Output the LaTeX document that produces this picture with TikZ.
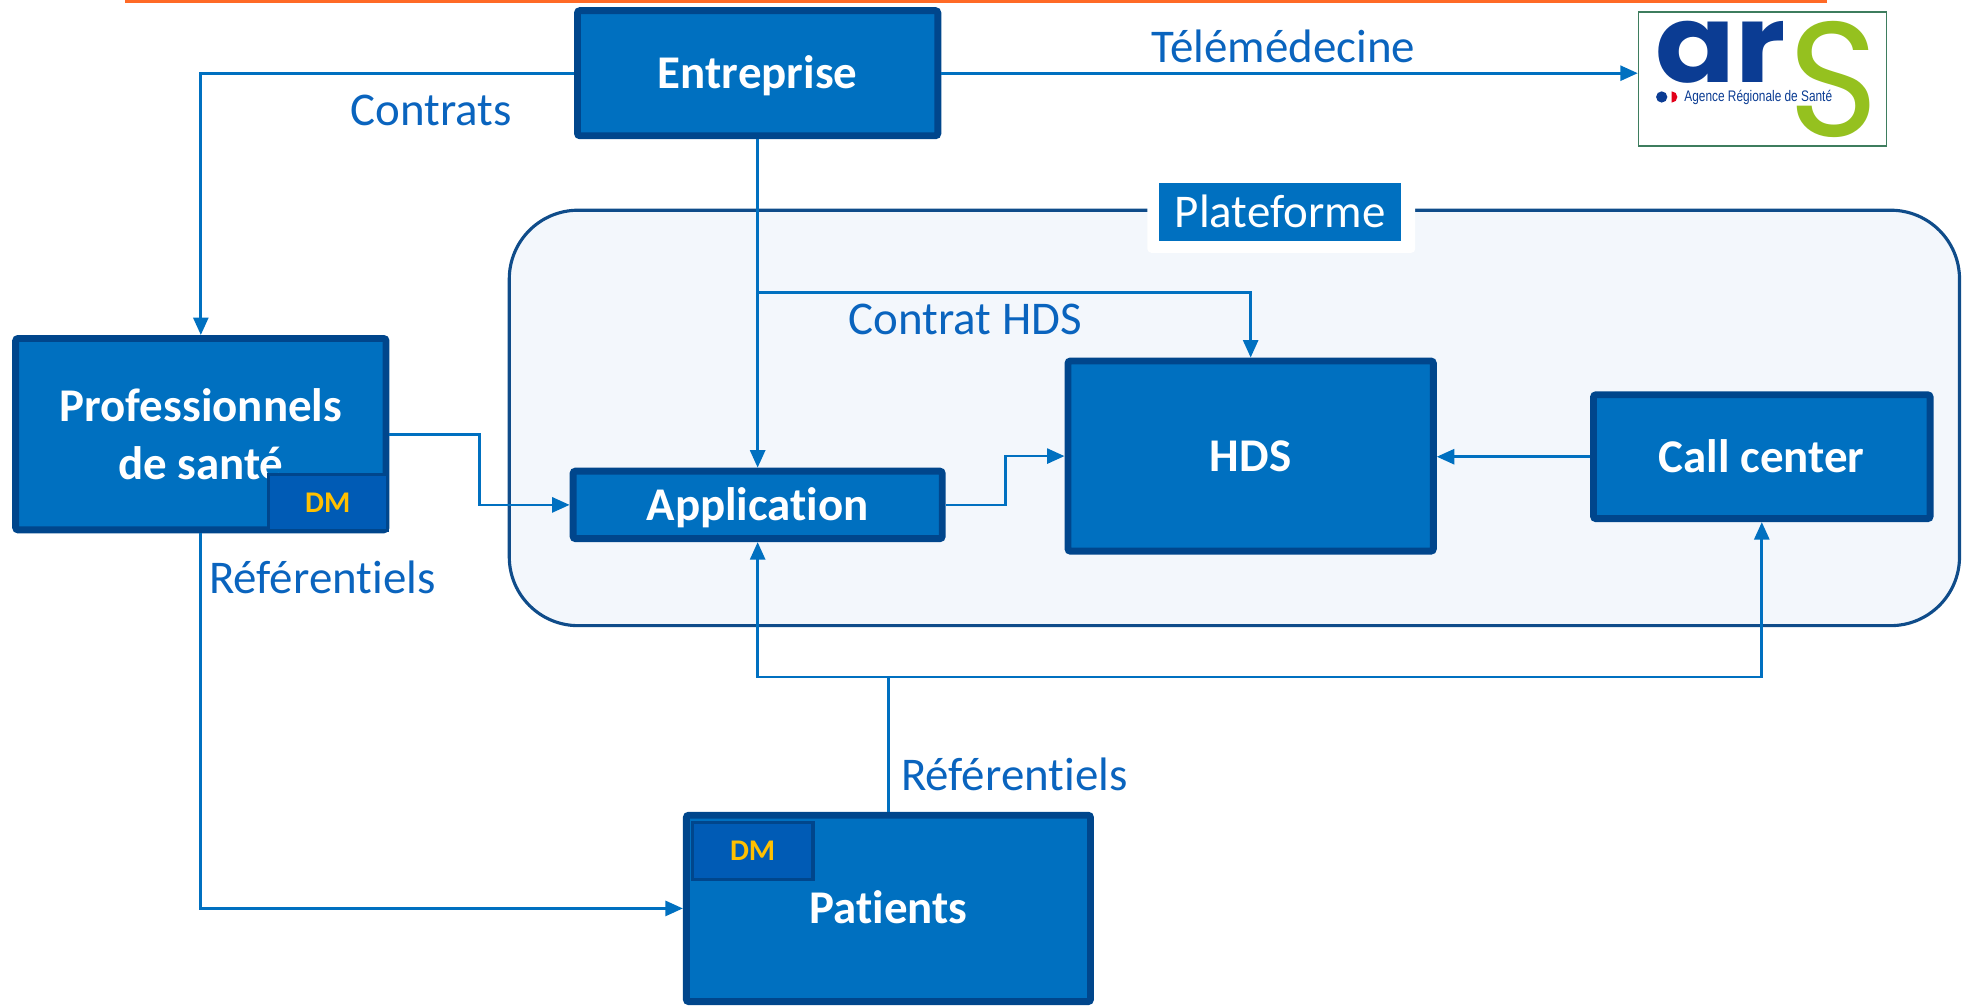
\documentclass[tikz,border=0pt]{standalone}
\usepackage{fontspec}
\setmainfont{Carlito}[Ligatures=NoCommon]
\newfontfamily\logofont{Poppins}
\newfontfamily\logosub{Liberation Sans}
\usetikzlibrary{arrows.meta,calc}
\definecolor{boxfill}{HTML}{0070C0}
\definecolor{boxdraw}{HTML}{00468C}
\definecolor{dmfill}{HTML}{005BB5}
\definecolor{dmtext}{HTML}{FFC000}
\definecolor{lblc}{HTML}{0A64BE}
\definecolor{connc}{HTML}{0070C0}
\definecolor{contfill}{HTML}{F3F7FC}
\definecolor{contdraw}{HTML}{0F4C8A}
\definecolor{orangec}{HTML}{FF6A26}
\definecolor{arsblue}{HTML}{0B3C93}
\definecolor{arsgreen}{HTML}{95C11F}
\definecolor{arsred}{HTML}{E2001A}
\definecolor{logoframe}{HTML}{3E7D5E}
\tikzset{
  box/.style={draw=boxdraw, line width=5.5pt, fill=boxfill, text=white,
    font=\bfseries\fontsize{37.5}{46}\selectfont, inner sep=0pt, rounded corners=2pt, align=center},
  oneline/.style={text height=24.5pt, text depth=0pt},
  dmbox/.style={draw=boxdraw, line width=2.5pt, fill=dmfill, text=dmtext,
    font=\bfseries\fontsize{24}{28}\selectfont, inner sep=0pt, text height=15.5pt, text depth=0pt},
  lbl/.style={text=lblc, font=\fontsize{37.5}{45}\selectfont, inner sep=0pt, anchor=base west},
  conn/.style={draw=connc, line width=2.2pt, -{Triangle[length=14pt,width=12pt]}},
  plainline/.style={draw=connc, line width=2.2pt},
}
\begin{document}
\begin{tikzpicture}[x=1pt,y=-1pt]
\useasboundingbox (0,0) rectangle (1568,805);
% orange top rule
\fill[orangec] (100,0) rectangle (1460,2.5);
% platform container
\draw[draw=contdraw, fill=contfill, line width=2.5pt, rounded corners=55pt] (407,168) rectangle (1566,500);
\fill[white, rounded corners=3pt] (917,142) rectangle (1131,202);
\node[fill=boxfill, text=white, font=\fontsize{37.5}{45}\selectfont, minimum width=194pt, minimum height=47pt, inner sep=0pt, text height=24.5pt, text depth=0pt] (plat) at (1023,169.5) {Plateforme};
% boxes
\node[box, oneline, minimum width=288pt, minimum height=100pt] (ent) at (605.5,58.5) {Entreprise};
\node[box, minimum width=296pt, minimum height=153pt] (prof) at (160.5,347) {Professionnels\\de santé};
\node[dmbox, minimum width=95.5pt, minimum height=44.5pt] (dm1) at (262,401.5) {DM};
\node[box, oneline, minimum width=295pt, minimum height=54pt] (app) at (605.5,403.5) {Application};
\node[box, oneline, minimum width=292pt, minimum height=152pt] (hds) at (999.5,364.5) {HDS};
\node[box, oneline, minimum width=269pt, minimum height=99pt] (call) at (1408,365) {Call center};
\node[box, oneline, minimum width=323pt, minimum height=149pt] (pat) at (710,726) {Patients};
\node[dmbox, minimum width=96.5pt, minimum height=45.5pt] (dm2) at (601.5,680) {DM};
% ARS logo
\node[draw=logoframe, line width=1.2pt, fill=white, minimum width=198pt, minimum height=107pt, inner sep=0pt] (logo) at (1408.5,63) {};
\node[anchor=south west, inner sep=0pt, text=arsblue] (ars1) at (1323,66.5) {\resizebox{104pt}{49pt}{\logofont\bfseries ar}};
\node[anchor=south west, inner sep=0pt, text=arsgreen] (ars2) at (1429,110) {\resizebox{72pt}{92pt}{\logofont S}};
\fill[arsblue] (1328,77.5) circle[radius=4.5pt];
\fill[arsred] (1336,73) arc[start angle=90,end angle=-90,radius=4.5pt] -- cycle;
\node[anchor=west, inner sep=0pt, text=arsblue] (ars3) at (1346,78) {\resizebox{118pt}{9pt}{\logosub Agence Régionale de Santé}};
% connectors
\draw[conn] (ent.east) -- (ent.east -| logo.west);
\draw[conn] (ent.west) -| (prof.north);
\draw[conn] (ent.south) -- (app.north);
\coordinate (br) at (605.5,234);
\draw[conn] (br) -| (hds.north);
\draw[conn] (prof.east) -- ++(72,0) |- (app.west);
\draw[conn] (app.east) -- ++(48,0) |- (hds.west);
\draw[conn] (call.west) -- (call.west -| hds.east);
\draw[conn] (prof.south) |- (pat.west);
\coordinate (pj) at (710,541);
\draw[plainline] (pat.north) -- (pj);
\draw[conn] (pj) -| (app.south);
\draw[conn] (pj) -| (call.south);
% labels
\node[lbl] (l1) at (920,50) {Télémédecine};
\node[lbl] (l2) at (280,100) {Contrats};
\node[lbl] (l3) at (678,267) {Contrat HDS};
\node[lbl] (l4) at (167,474) {Référentiels};
\node[lbl] (l5) at (720,632) {Référentiels};
\end{tikzpicture}
\end{document}
